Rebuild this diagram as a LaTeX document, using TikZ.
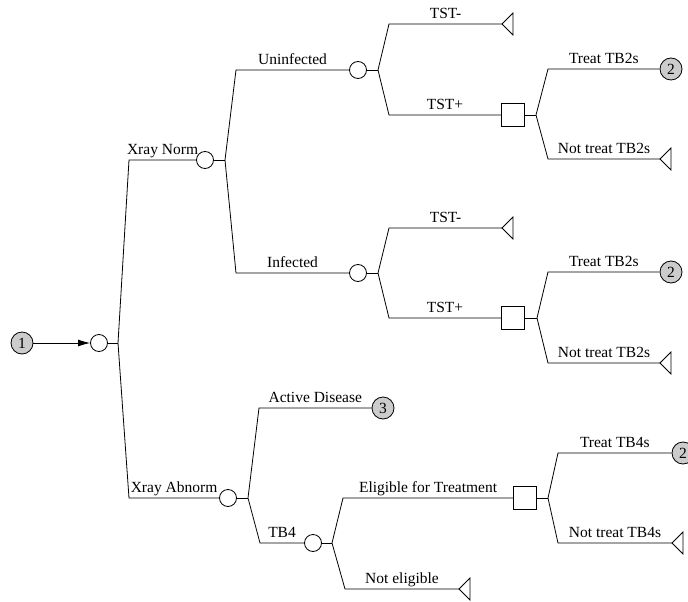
\documentclass[tikz,border=0pt]{standalone}
\usepackage{fontspec}
\setmainfont{Liberation Serif}
\usetikzlibrary{arrows.meta}

\tikzset{
  chance/.style={draw, circle, minimum size=17pt, inner sep=0pt},
  decision/.style={draw, rectangle, minimum size=23pt, inner sep=0pt},
  outcome/.style={draw, circle, fill=gray!40, minimum size=22pt, inner sep=0pt},
  lbl/.style={above, midway, inner sep=5pt, text depth=0pt},
}
% terminal node: triangle with its tip at the named coordinate
\newcommand{\term}[1]{\draw (#1) -- ++(11,-11) -- ++(0,22) -- cycle;}

\begin{document}
\begin{tikzpicture}[x=1pt, y=-1pt, line width=0.8pt, font=\fontsize{15.5}{18}\selectfont]
\useasboundingbox (0,0) rectangle (688,602);
\clip (0,0) rectangle (688,602);

% root
\node[outcome] (o1) at (22,343) {1};
\node[chance] (c0) at (99,343) {};
\coordinate (b0) at (118,343);

% Xray Norm
\node[chance] (c1) at (205,160) {};
\coordinate (b1) at (225,160);
\node[chance] (c2) at (358,70) {};
\coordinate (b2) at (378,70);
\coordinate (t1) at (502,24);
\node[decision] (d1) at (513,115) {};
\coordinate (b3) at (536,115);
\node[outcome] (o2) at (671,69) {2};
\coordinate (t2) at (660,159);
\node[chance] (c3) at (358,273) {};
\coordinate (b4) at (378,273);
\coordinate (t3) at (502,228);
\node[decision] (d2) at (513,318) {};
\coordinate (b5) at (537,318);
\node[outcome] (o3) at (671,272) {2};
\coordinate (t4) at (660,363);

% Xray Abnorm
\node[chance] (c4) at (228,498) {};
\coordinate (b6) at (248,498);
\node[outcome] (o4) at (383,408) {3};
\node[chance] (c5) at (313,543) {};
\coordinate (b7) at (332,543);
\node[decision] (d3) at (525,498) {};
\coordinate (b8) at (548,498);
\node[outcome] (o5) at (683,453) {2};
\coordinate (t5) at (672,543);
\coordinate (t6) at (459,589);

\foreach \t in {t1,t2,t3,t4,t5,t6}
  {\term{\t}}

\draw[-{Latex[length=12pt,width=7pt]}] (o1) -- (c0);
\draw (c0) -- (b0);
\draw (c1) -- (b1);
\draw (c2) -- (b2);
\draw (c3) -- (b4);
\draw (c4) -- (b6);
\draw (c5) -- (b7);
\draw (d1) -- (b3);
\draw (d2) -- (b5);
\draw (d3) -- (b8);

\draw (b0) -- (129,160) -- node[lbl]{Xray Norm} (c1);
\draw (b0) -- (129,498) -- node[lbl]{Xray Abnorm} (c4);

\draw (b1) -- (236,70) -- node[lbl]{Uninfected} (c2);
\draw (b1) -- (236,273) -- node[lbl]{Infected} (c3);

\draw (b2) -- (389,24) -- node[lbl]{TST-} (t1);
\draw (b2) -- (389,115) -- node[lbl]{TST+} (d1);
\draw (b3) -- (548,69) -- node[lbl]{Treat TB2s} (o2);
\draw (b3) -- (548,159) -- node[lbl]{Not treat TB2s} (t2);

\draw (b4) -- (389,228) -- node[lbl]{TST-} (t3);
\draw (b4) -- (389,318) -- node[lbl]{TST+} (d2);
\draw (b5) -- (548,272) -- node[lbl]{Treat TB2s} (o3);
\draw (b5) -- (548,363) -- node[lbl]{Not treat TB2s} (t4);

\draw (b6) -- (259,408) -- node[lbl]{Active Disease} (o4);
\draw (b6) -- (260,543) -- node[lbl]{TB4} (c5);
\draw (b7) -- (343,498) -- node[lbl]{Eligible for Treatment} (d3);
\draw (b7) -- (345,589) -- node[lbl]{Not eligible} (t6);
\draw (b8) -- (558,453) -- node[lbl]{Treat TB4s} (o5);
\draw (b8) -- (558,543) -- node[lbl]{Not treat TB4s} (t5);
\end{tikzpicture}
\end{document}
